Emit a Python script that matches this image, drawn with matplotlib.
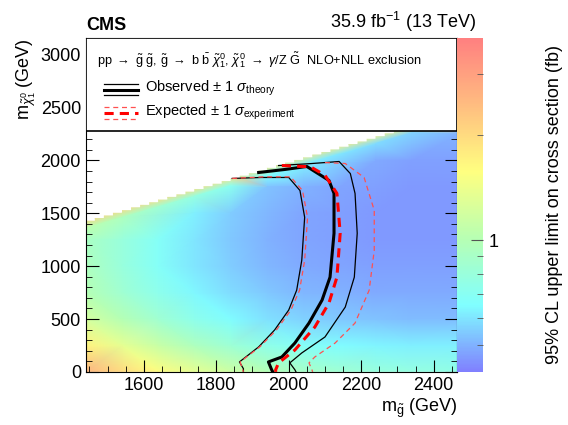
import numpy as np
import matplotlib
matplotlib.use("Agg")
import matplotlib.pyplot as plt
from matplotlib.colors import LinearSegmentedColormap, LogNorm
from matplotlib.path import Path
from matplotlib.patches import PathPatch, Rectangle
from matplotlib.ticker import NullFormatter, FixedLocator, FixedFormatter
import matplotlib.tri as mtri

plt.rcParams["font.family"] = ["Liberation Sans", "DejaVu Sans"]
plt.rcParams["mathtext.fontset"] = "custom"
plt.rcParams["mathtext.rm"] = "Liberation Sans"
plt.rcParams["mathtext.it"] = "Liberation Sans:italic"
plt.rcParams["mathtext.sf"] = "Liberation Sans"

# grid of upper limits (fb)
grid_x = [1440, 1540, 1640, 1740, 1840, 1940, 2040, 2140, 2240, 2340, 2465]
grid_y = [0, 250, 500, 750, 1000, 1250, 1500, 1750, 2000, 2250]
grid_limit = [
    [2.6, 2.0, 1.6, 1.35, 1.15, 1.0, 0.9, 0.85, 0.8, 0.78, 0.76],
    [1.7, 1.35, 1.12, 0.95, 0.83, 0.74, 0.68, 0.65, 0.63, 0.62, 0.62],
    [1.2, 1.0, 0.85, 0.73, 0.65, 0.59, 0.56, 0.54, 0.53, 0.52, 0.52],
    [1.0, 0.85, 0.73, 0.64, 0.58, 0.54, 0.51, 0.5, 0.49, 0.49, 0.49],
    [0.95, 0.8, 0.68, 0.6, 0.55, 0.51, 0.49, 0.48, 0.47, 0.47, 0.47],
    [0.92, 0.8, 0.68, 0.6, 0.54, 0.5, 0.48, 0.47, 0.46, 0.46, 0.46],
    [0.0, 0.0, 0.72, 0.62, 0.55, 0.51, 0.48, 0.47, 0.46, 0.46, 0.46],
    [0.0, 0.0, 0.0, 0.0, 0.6, 0.53, 0.5, 0.48, 0.47, 0.46, 0.46],
    [0.0, 0.0, 0.0, 0.0, 0.0, 0.0, 0.55, 0.51, 0.49, 0.47, 0.47],
    [0.0, 0.0, 0.0, 0.0, 0.0, 0.0, 0.0, 0.0, 0.55, 0.51, 0.5],
]
# limits at the diagonal edge and 100 GeV below it
diag_limit = [2.1, 2.05, 2.0, 1.95, 1.9, 1.85, 1.8, 1.75, 1.7, 1.6, 1.5]
near_diag_limit = [1.05, 0.95, 0.85, 0.78, 0.72, 0.66, 0.62, 0.6, 0.58, 0.56, 0.55]

# exclusion contours (m_gluino, m_chi)
obs_x = [1917, 1990, 2050, 2111, 2125, 2125, 2114, 2092, 2056, 2017, 1981, 1944, 1953, 1956]
obs_y = [1886, 1915, 1943, 1811, 1688, 1311, 896, 679, 462, 273, 141, 94, 19, 0]
obs_m_x = [1844, 1925, 2000, 2031, 2044, 2036, 2022, 2000, 1961, 1917, 1864, 1875, 1875]
obs_m_y = [1830, 1839, 1839, 1716, 1462, 1056, 773, 585, 396, 236, 94, 30, 0]
obs_p_x = [1972, 2060, 2139, 2170, 2183, 2189, 2181, 2156, 2100, 2036, 2003, 2017, 2020]
obs_p_y = [1952, 1970, 1990, 1876, 1688, 1311, 896, 613, 330, 179, 85, 20, 0]
exp_x = [1981, 2060, 2100, 2133, 2142, 2133, 2111, 2072, 2017, 1972, 1964, 1964]
exp_y = [1952, 1940, 1860, 1688, 1311, 896, 651, 424, 207, 85, 20, 0]
exp_m_x = [1844, 1930, 2005, 2038, 2052, 2044, 2030, 2006, 1966, 1920, 1866, 1872, 1875]
exp_m_y = [1830, 1845, 1845, 1716, 1462, 1056, 773, 585, 396, 236, 94, 30, 0]
exp_p_x = [2100, 2156, 2208, 2236, 2236, 2222, 2183, 2128, 2072, 2056, 2064, 2066]
exp_p_y = [1980, 1971, 1839, 1528, 1150, 773, 462, 273, 141, 85, 20, 0]

X_MIN, X_MAX, Y_MAX = 1440, 2465, 3160
BIN = 25

cmap = LinearSegmentedColormap.from_list("pale_rainbow", [
    (0.50, 0.50, 1.00), (0.50, 1.00, 1.00), (0.72, 1.00, 0.70),
    (1.00, 1.00, 0.50), (1.00, 0.74, 0.50), (1.00, 0.50, 0.50)])
norm = LogNorm(vmin=0.42, vmax=3.8)

fig = plt.figure(figsize=(5.68, 4.25), dpi=100)
ax = fig.add_axes([0.151, 0.125, 0.654, 0.786])
cax = fig.add_axes([0.805, 0.125, 0.046, 0.786])

px, py, pv = [], [], []
for i, yv in enumerate(grid_y):
    for j, xv in enumerate(grid_x):
        if yv < xv - 140:
            px.append(xv); py.append(yv); pv.append(grid_limit[i][j])
for j, xv in enumerate(grid_x):
    px += [xv, xv]
    py += [xv + 10, xv - 80]
    pv += [diag_limit[j], near_diag_limit[j]]
tri = mtri.Triangulation(px, py)
mesh = ax.tripcolor(tri, pv, shading="gouraud", cmap=cmap, norm=norm)

# staircase edge along the diagonal
edges = np.arange(X_MIN - BIN, X_MAX + BIN, BIN)
verts = [(X_MIN, 0)]
for e in edges:
    top = e - 10
    verts += [(e, top), (e + BIN, top)]
verts += [(X_MAX, 0)]
clip = PathPatch(Path(verts + [verts[0]]), transform=ax.transData, facecolor="none", edgecolor="none")
ax.add_patch(clip)
mesh.set_clip_path(clip)

ax.plot(obs_x, obs_y, color="black", lw=2.2)
ax.plot(obs_m_x, obs_m_y, color="black", lw=0.9)
ax.plot(obs_p_x, obs_p_y, color="black", lw=0.9)
ax.plot(exp_x, exp_y, color="red", lw=2.2, ls=(0, (3, 2)))
ax.plot(exp_m_x, exp_m_y, color="#ff5050", lw=0.9, ls=(0, (4, 3)))
ax.plot(exp_p_x, exp_p_y, color="#ff5050", lw=0.9, ls=(0, (4, 3)))

ax.set_xlim(X_MIN, X_MAX)
ax.set_ylim(0, Y_MAX)
ax.set_xticks([1600, 1800, 2000, 2200, 2400])
ax.set_xticks(np.arange(1450, 2465, 50), minor=True)
ax.set_yticks(np.arange(0, 3001, 500))
ax.set_yticks(np.arange(0, 3160, 100), minor=True)
ax.tick_params(which="both", direction="in", top=True, right=True, labelsize=13)
ax.tick_params(which="major", length=9)
ax.tick_params(which="minor", length=4.5)
ax.set_xlabel(r"m$_{\tilde{\rm g}}$ (GeV)", fontsize=13, loc="right", labelpad=2)
ax.set_ylabel(r"m$_{\tilde{\chi}^{0}_{1}}$ (GeV)", fontsize=13, loc="top", labelpad=2)

# legend box
ax.add_patch(Rectangle((0, 0.722), 1, 0.278, transform=ax.transAxes, facecolor="white",
                       edgecolor="black", lw=1.2, zorder=5))
ax.text(0.03, 0.935, r"pp $\rightarrow$ $\tilde{\rm g}$ $\tilde{\rm g}$, $\tilde{\rm g}$ $\rightarrow$ b $\bar{\rm b}$ "
        r"$\tilde{\chi}^{0}_{1}$, $\tilde{\chi}^{0}_{1}$ $\rightarrow$ $\gamma$/Z $\tilde{\rm G}$  NLO+NLL exclusion",
        transform=ax.transAxes, fontsize=9.2, va="center", zorder=6)
lx = [0.05, 0.14]
ax.plot(lx, [0.862, 0.862], color="black", lw=0.9, transform=ax.transAxes, zorder=6)
ax.plot(lx, [0.845, 0.845], color="black", lw=2.2, transform=ax.transAxes, zorder=6)
ax.plot(lx, [0.828, 0.828], color="black", lw=0.9, transform=ax.transAxes, zorder=6)
ax.plot(lx, [0.792, 0.792], color="#ff5050", lw=0.9, ls=(0, (4, 3)), transform=ax.transAxes, zorder=6)
ax.plot(lx, [0.775, 0.775], color="red", lw=2.2, ls=(0, (3, 2)), transform=ax.transAxes, zorder=6)
ax.plot(lx, [0.758, 0.758], color="#ff5050", lw=0.9, ls=(0, (4, 3)), transform=ax.transAxes, zorder=6)
ax.text(0.16, 0.848, r"Observed $\pm$ 1 $\sigma_{\rm theory}$", transform=ax.transAxes,
        fontsize=10.5, va="center", zorder=6)
ax.text(0.16, 0.778, r"Expected $\pm$ 1 $\sigma_{\rm experiment}$", transform=ax.transAxes,
        fontsize=10.5, va="center", zorder=6)

ax.text(0.0, 1.012, "CMS", transform=ax.transAxes, fontsize=13, fontweight="bold", ha="left", va="bottom")
ax.text(1.05, 1.012, r"35.9 fb$^{-1}$ (13 TeV)", transform=ax.transAxes, fontsize=13, ha="right", va="bottom")

cb = fig.colorbar(mesh, cax=cax)
cb.outline.set_visible(False)
cax.yaxis.set_major_locator(FixedLocator([1]))
cax.yaxis.set_major_formatter(FixedFormatter(["1"]))
cax.yaxis.set_minor_locator(FixedLocator([0.5, 0.6, 0.7, 0.8, 0.9, 2, 3]))
cax.yaxis.set_minor_formatter(NullFormatter())
cax.tick_params(which="both", direction="in", labelsize=13, color="#555555")
cax.tick_params(which="major", length=9)
cax.tick_params(which="minor", length=4.5)
cb.set_label("95% CL upper limit on cross section (fb)", fontsize=13)
cax.yaxis.set_label_coords(3.4, 0.5)

fig.savefig("out.png", dpi=100)
